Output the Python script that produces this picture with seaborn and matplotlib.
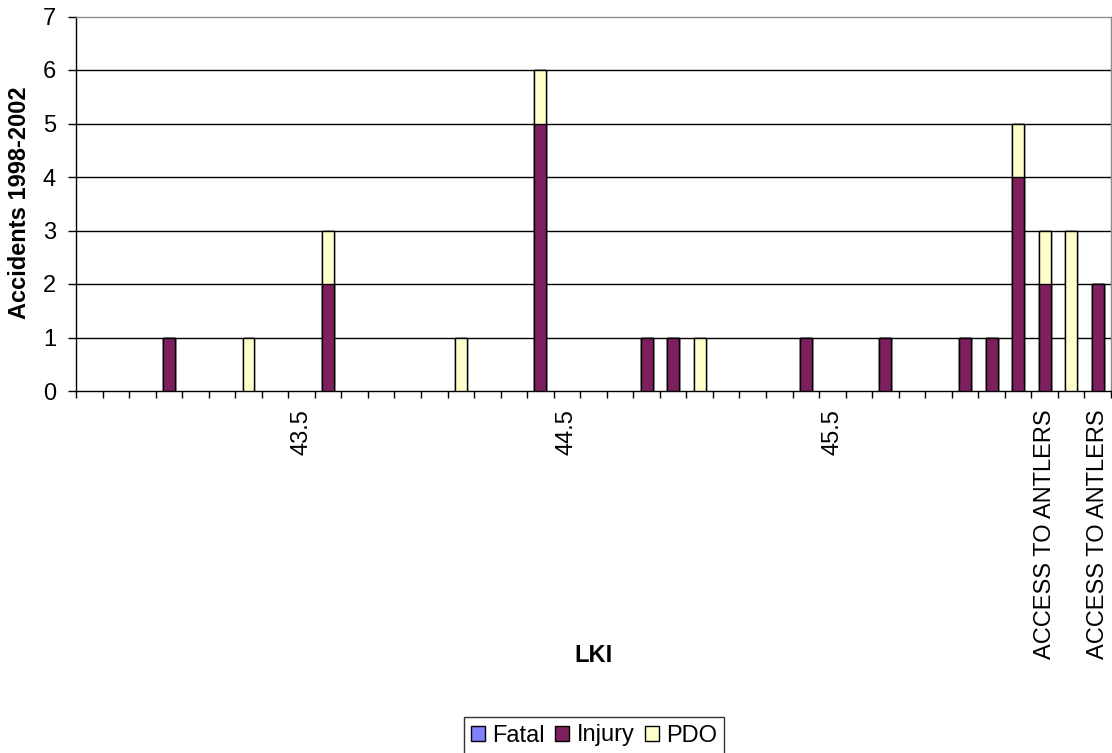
import matplotlib
matplotlib.use("Agg")
import matplotlib.pyplot as plt
from matplotlib.patches import Patch
import numpy as np
import pandas as pd
import seaborn as sns

# Category slots along the route (one bar slot per LKI position)
positions = list(range(39))
tick_labels = ["", "", "", "", "", "", "", "", "43.5", "",
               "", "", "", "", "", "", "", "", "44.5", "",
               "", "", "", "", "", "", "", "", "45.5", "",
               "", "", "", "", "", "", "ACCESS TO ANTLERS", "", "ACCESS TO ANTLERS"]

fatal = [0, 0, 0, 0, 0, 0, 0, 0, 0, 0,
         0, 0, 0, 0, 0, 0, 0, 0, 0, 0,
         0, 0, 0, 0, 0, 0, 0, 0, 0, 0,
         0, 0, 0, 0, 0, 0, 0, 0, 0]
injury = [0, 0, 0, 1, 0, 0, 0, 0, 0, 2,
          0, 0, 0, 0, 0, 0, 0, 5, 0, 0,
          0, 1, 1, 0, 0, 0, 0, 1, 0, 0,
          1, 0, 0, 1, 1, 4, 2, 0, 2]
pdo = [0, 0, 0, 0, 0, 0, 1, 0, 0, 1,
       0, 0, 0, 0, 1, 0, 0, 1, 0, 0,
       0, 0, 0, 1, 0, 0, 0, 0, 0, 0,
       0, 0, 0, 0, 0, 1, 1, 3, 0]

series_names = ["Fatal", "Injury", "PDO"]
colors = {"Fatal": "#8080FF", "Injury": "#7E1F5E", "PDO": "#FFFFCC"}

df = pd.DataFrame({"pos": positions, "Fatal": fatal, "Injury": injury, "PDO": pdo})
# cumulative heights for the stack (Injury at the bottom, then PDO, then Fatal)
df["top_injury"] = df["Injury"]
df["top_pdo"] = df["Injury"] + df["PDO"]
df["top_fatal"] = df["Injury"] + df["PDO"] + df["Fatal"]

sns.set_style("white")
plt.rcParams["font.family"] = ["Liberation Sans", "DejaVu Sans"]
plt.rcParams["text.color"] = "black"
plt.rcParams["xtick.color"] = "black"
plt.rcParams["ytick.color"] = "black"

FS = 17
PX = 72 / 100  # points per pixel at 100 dpi

fig = plt.figure(figsize=(11.12, 7.53), dpi=100)
ax = fig.add_axes([76 / 1112, 1 - 391 / 753, (1111 - 76) / 1112, (391 - 16.5) / 753])

order = positions
bar_kw = dict(order=order, width=0.45, edgecolor="black", linewidth=1.0,
              errorbar=None, ax=ax, zorder=3)
sns.barplot(data=df, x="pos", y="top_fatal", color=colors["Fatal"], saturation=1, **bar_kw)
sns.barplot(data=df, x="pos", y="top_pdo", color=colors["PDO"], saturation=1, **bar_kw)
sns.barplot(data=df, x="pos", y="top_injury", color=colors["Injury"], saturation=1, **bar_kw)

# empty segments get no outline
for p in ax.patches:
    if p.get_height() == 0:
        p.set_linewidth(0)

ax.set_xlim(-0.5, len(positions) - 0.5)
ax.set_ylim(0, 7)

# y axis
ax.set_yticks(range(0, 8))
ax.set_yticklabels([str(v) for v in range(0, 8)], fontsize=FS)
ax.tick_params(axis="y", direction="out", length=8 * PX, width=1, color="black",
               labelcolor="black", pad=12 * PX, left=True)
for v in range(1, 7):
    ax.axhline(v, color="black", linewidth=1.0, zorder=1)

# x axis: labels at slot centres, tick marks on slot boundaries
ax.set_xticks(positions)
ax.set_xticklabels(tick_labels, rotation=90, fontsize=FS, va="top", ha="center")
ax.tick_params(axis="x", which="major", length=0, pad=18 * PX, labelcolor="black")
ax.set_xticks(np.arange(-0.5, len(positions), 1.0), minor=True)
ax.tick_params(axis="x", which="minor", direction="out", length=7 * PX, width=1,
               color="black", bottom=True)

for side in ["left", "bottom"]:
    ax.spines[side].set_color("black")
    ax.spines[side].set_linewidth(1.0)
for side in ["top", "right"]:
    ax.spines[side].set_color("#8c8c8c")
    ax.spines[side].set_linewidth(1.0)
    ax.spines[side].set_visible(True)

ax.set_xlabel("")
ax.set_ylabel("")
fig.text(20 / 1112, 1 - 203 / 753, "Accidents 1998-2002", rotation=90,
         fontsize=FS, fontweight="bold", ha="center", va="center", color="black")
fig.text(594 / 1112, 1 - 655 / 753, "LKI", fontsize=FS, fontweight="bold",
         ha="center", va="center", color="black")

handles = [Patch(facecolor=colors[n], edgecolor="black", linewidth=1.0, label=n)
           for n in series_names]
leg = fig.legend(handles=handles, loc="center", bbox_to_anchor=(594 / 1112, 1 - 735.5 / 753),
                 ncol=3, fontsize=FS, frameon=True, fancybox=False, borderpad=0.3,
                 handlelength=0.6, handleheight=0.6, handletextpad=0.3,
                 columnspacing=0.45, borderaxespad=0)
leg.get_frame().set_edgecolor("black")
leg.get_frame().set_linewidth(1.0)

fig.savefig("out.png", dpi=100, facecolor="white")
